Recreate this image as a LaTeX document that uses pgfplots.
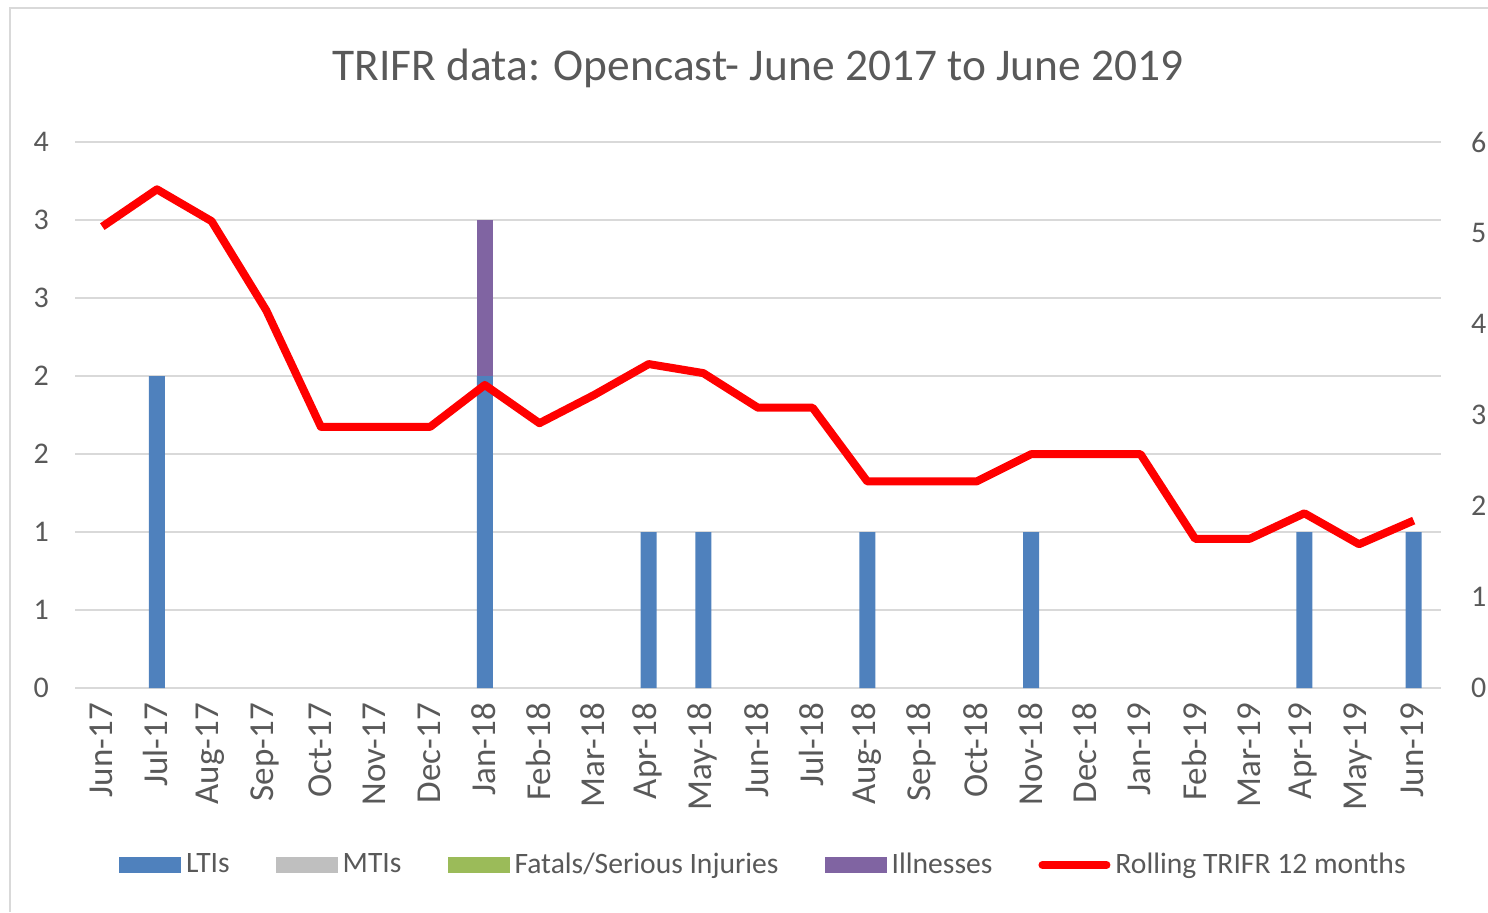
\documentclass[border=0pt]{standalone}
\usepackage{pgfplots}
\pgfplotsset{compat=1.18}
\usepackage{fontspec}
\setmainfont{Carlito}
\definecolor{lti}{HTML}{4F81BD}
\definecolor{mti}{HTML}{BFBFBF}
\definecolor{fatal}{HTML}{9BBB59}
\definecolor{ill}{HTML}{8064A2}
\definecolor{txt}{HTML}{595959}
\definecolor{gridc}{HTML}{D9D9D9}
\pgfplotsset{
  legbar/.style={legend image code/.code={\fill[##1,draw=none] (0pt,-4pt) rectangle (31pt,4pt);}},
  legline/.style={legend image code/.code={\draw[##1,line cap=round] (0pt,0pt) -- (32pt,0pt);}},
}
\begin{document}
\begin{tikzpicture}
\path[use as bounding box] (0pt,0pt) rectangle (744pt,456pt);
\draw[gridc, line width=1.2pt] (5pt,0pt) -- (5pt,452pt) -- (744pt,452pt);
\node[text=txt, font=\fontsize{22.7}{27}\selectfont] at (379pt,422pt) {TRIFR data: Opencast- June 2017 to June 2019};
\begin{axis}[
  at={(37.5pt,112pt)}, anchor=south west, scale only axis,
  width=683pt, height=273pt,
  xmin=-0.5, xmax=24.5, ymin=0, ymax=3.5,
  ybar stacked, bar width=8pt,
  axis line style={draw=none},
  major tick length=0pt,
  ymajorgrids, grid style={gridc, line width=1.4pt},
  ytick={0,0.5,1,1.5,2,2.5,3,3.5},
  yticklabels={0,1,1,2,2,3,3,4},
  xtick={0,...,24},
  xticklabels={Jun-17,Jul-17,Aug-17,Sep-17,Oct-17,Nov-17,Dec-17,Jan-18,Feb-18,Mar-18,Apr-18,May-18,Jun-18,Jul-18,Aug-18,Sep-18,Oct-18,Nov-18,Dec-18,Jan-19,Feb-19,Mar-19,Apr-19,May-19,Jun-19},
  tick label style={text=txt, font=\fontsize{15}{18}\selectfont},
  xticklabel style={rotate=90, anchor=east, xshift=-4pt, yshift=0.5pt, font=\fontsize{17.5}{20}\selectfont},
  yticklabel style={xshift=-9.5pt},
]
\addplot[fill=lti, draw=none] coordinates {(0,0) (1,2) (2,0) (3,0) (4,0) (5,0) (6,0) (7,2) (8,0) (9,0) (10,1) (11,1) (12,0) (13,0) (14,1) (15,0) (16,0) (17,1) (18,0) (19,0) (20,0) (21,0) (22,1) (23,0) (24,1)};
\addplot[fill=mti, draw=none] coordinates {(0,0) (1,0) (2,0) (3,0) (4,0) (5,0) (6,0) (7,0) (8,0) (9,0) (10,0) (11,0) (12,0) (13,0) (14,0) (15,0) (16,0) (17,0) (18,0) (19,0) (20,0) (21,0) (22,0) (23,0) (24,0)};
\addplot[fill=fatal, draw=none] coordinates {(0,0) (1,0) (2,0) (3,0) (4,0) (5,0) (6,0) (7,0) (8,0) (9,0) (10,0) (11,0) (12,0) (13,0) (14,0) (15,0) (16,0) (17,0) (18,0) (19,0) (20,0) (21,0) (22,0) (23,0) (24,0)};
\addplot[fill=ill, draw=none] coordinates {(0,0) (1,0) (2,0) (3,0) (4,0) (5,0) (6,0) (7,1) (8,0) (9,0) (10,0) (11,0) (12,0) (13,0) (14,0) (15,0) (16,0) (17,0) (18,0) (19,0) (20,0) (21,0) (22,0) (23,0) (24,0)};
\end{axis}
\begin{axis}[
  at={(37.5pt,112pt)}, anchor=south west, scale only axis,
  width=683pt, height=273pt,
  xmin=-0.5, xmax=24.5, ymin=0, ymax=6,
  axis x line=none, axis y line*=right,
  axis line style={draw=none},
  major tick length=0pt,
  ytick={0,1,2,3,4,5,6},
  /pgf/number format/assume math mode=true,
  tick label style={text=txt, font=\fontsize{15}{18}\selectfont},
  yticklabel style={xshift=11.5pt},
  legend columns=-1,
  legend style={draw=none, fill=none, at={(0.505,-0.324)}, anchor=center,
    font=\fontsize{14.8}{17}\selectfont, text=txt,
    nodes={inner sep=2.5pt},
    /tikz/every even column/.append style={column sep=20.5pt}},
  legend cell align=left,
]
\addlegendimage{legbar, fill=lti}
\addlegendentry{LTIs}
\addlegendimage{legbar, fill=mti}
\addlegendentry{MTIs}
\addlegendimage{legbar, fill=fatal}
\addlegendentry{Fatals/Serious Injuries}
\addlegendimage{legbar, fill=ill}
\addlegendentry{Illnesses}
\addplot[legline, red, line width=4pt, line join=round, mark=none] coordinates {
(0,5.07) (1,5.48) (2,5.13) (3,4.15) (4,2.87) (5,2.87) (6,2.87) (7,3.33) (8,2.91) (9,3.22) (10,3.56) (11,3.46) (12,3.08) (13,3.08) (14,2.27) (15,2.27) (16,2.27) (17,2.57) (18,2.57) (19,2.57) (20,1.64) (21,1.64) (22,1.92) (23,1.58) (24,1.84)};
\addlegendentry{Rolling TRIFR 12 months}
\end{axis}
\end{tikzpicture}
\end{document}
